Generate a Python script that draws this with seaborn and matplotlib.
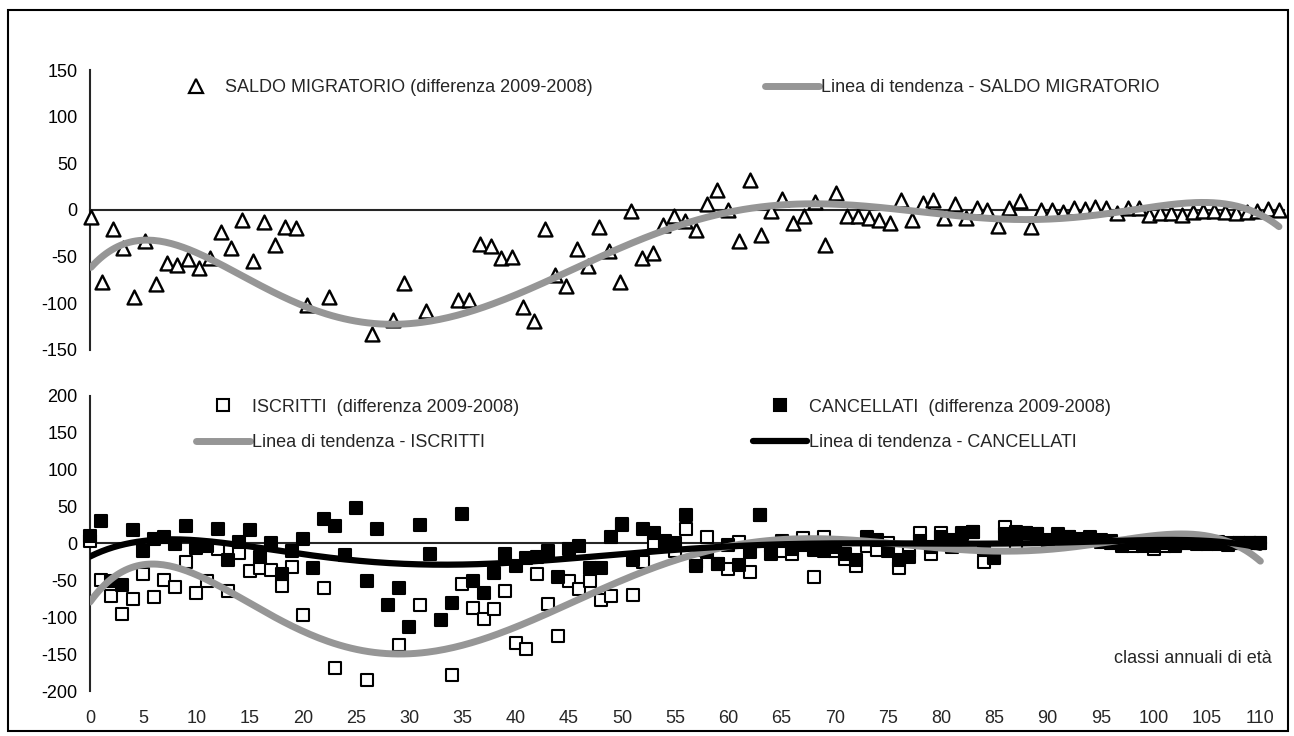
import numpy as np
import matplotlib
matplotlib.use("Agg")
import matplotlib.pyplot as plt
from matplotlib.lines import Line2D
from matplotlib.patches import Rectangle
import seaborn as sns

# classi annuali di eta' 0..110
eta = np.arange(0, 111)

# saldo migratorio (differenza 2009-2008), valori oltre la scala non sono visibili
saldo = [-7, -77, -20, -41, -93, -33, -79, -57, -59, -52,
         -62, -51, -24, -41, -11, -55, -13, -38, -18, -19,
         -102, -172, -93, -192, -188, -253, -133, -223, -118, -78,
         -152, -108, -190, -152, -96, -96, -36, -39, -51, -50,
         -104, -119, -20, -70, -81, -42, -60, -18, -44, -77,
         -1, -51, -46, -16, -6, -12, -21, 6, 21, 0,
         -33, 32, -27, -1, 12, -14, -6, 9, -37, 18,
         -6, -6, -9, -11, -14, 11, -11, 8, 11, -9,
         6, -9, 2, 0, -17, 2, 10, -18, 0, 0,
         -2, 2, 1, 3, 2, -3, 2, 2, -5, -3,
         -3, -5, -2, -1, -1, -2, -3, -2, -1, 1,
         0]

iscritti = [3, -49, -71, -96, -76, -42, -73, -49, -59, -25,
            -67, -51, -8, -64, -13, -37, -33, -36, -58, -32,
            -97, -205, -60, -169, -204, -205, -185, -203, -202, -138,
            -265, -83, -204, -256, -178, -55, -87, -103, -89, -65,
            -135, -143, -42, -82, -126, -51, -62, -51, -77, -71,
            25, -70, -25, 1, -3, -11, 20, -25, 9, -28,
            -35, 2, -39, 38, -3, -11, -14, 7, -46, 8,
            -11, -21, -31, -3, -9, 1, -33, -10, 14, -14,
            14, -5, 14, 15, -25, -18, 22, -3, 14, 12,
            3, 12, 9, 6, 8, 2, 3, -1, -4, -4,
            -7, -4, -4, 0, -1, -1, -1, -2, 0, 1,
            1]

cancellati = [10, 30, -51, -57, 18, -10, 6, 9, -1, 24,
              -6, -4, 19, -22, 2, 18, -19, 1, -41, -10,
              6, -33, 33, 23, -16, 48, -51, 20, -84, -60,
              -113, 25, -14, -104, -81, 40, -51, -67, -40, -15,
              -31, -20, -19, -10, -46, -8, -3, -34, -33, 8,
              26, -22, 19, 14, 3, 1, 39, -31, -12, -28,
              -2, -30, -12, 39, -15, 3, -8, -2, -9, -10,
              -5, -15, -22, 8, 5, -10, -22, -18, 3, -5,
              8, 4, 12, 15, -8, -20, 12, 15, 14, 12,
              5, 10, 8, 3, 6, 5, 1, -3, 1, -1,
              -4, 1, -2, 1, 0, 1, 2, 0, 1, 0,
              1]

lab_saldo = "SALDO MIGRATORIO (differenza 2009-2008)"
lab_isc = "ISCRITTI  (differenza 2009-2008)"
lab_canc = "CANCELLATI  (differenza 2009-2008)"
GRAY = "#969696"
FS = 13

sns.set_style("white")
plt.rcParams["font.family"] = ["Liberation Sans", "DejaVu Sans"]
plt.rcParams["axes.unicode_minus"] = False


def trend(y):
    # linea di tendenza polinomiale di ordine 6, come in Excel
    p = np.polynomial.Polynomial.fit(eta, np.asarray(y, float), 6)
    xs = np.linspace(eta.min(), eta.max(), 400)
    return xs, p(xs)


def visible(y, lim):
    y = np.asarray(y, float)
    return np.where(np.abs(y) <= lim, y, np.nan)


def style_axis(ax, lim, step):
    ax.set_ylim(-lim, lim)
    ax.set_yticks(np.arange(-lim, lim + 1, step))
    ax.set_xticks(np.arange(0, 111, 5))
    for s in ["top", "right"]:
        ax.spines[s].set_visible(False)
    ax.spines["left"].set_linewidth(1.5)
    ax.spines["bottom"].set_linewidth(1.5)
    ax.spines["bottom"].set_position(("data", 0))
    ax.tick_params(axis="y", direction="out", length=4, width=1.5,
                   labelsize=FS, pad=5, colors="black")
    ax.tick_params(axis="x", direction="out", length=4, width=1.5,
                   labelbottom=False)
    ax.set_xlabel("")
    ax.set_ylabel("")
    ax.grid(False)


fig = plt.figure(figsize=(12.94, 7.36), dpi=100)
ax1 = fig.add_axes([0.06947, 0.52446, 0.9231, 0.38043])
ax2 = fig.add_axes([0.06955, 0.06114, 0.90858, 0.40122])

# --- pannello superiore: saldo migratorio
sns.scatterplot(x=eta, y=visible(saldo, 150), marker="^", s=100, color="white",
                edgecolor="black", linewidth=1.7, ax=ax1, zorder=3,
                clip_on=False, legend=False)
xs, ys = trend(saldo)
sns.lineplot(x=xs, y=ys, color=GRAY, linewidth=5, ax=ax1, zorder=4)
ax1.set_xlim(-0.1, 110.5)
style_axis(ax1, 150, 50)

# --- pannello inferiore: iscritti e cancellati
sns.scatterplot(x=eta, y=visible(iscritti, 200), marker="s", s=72, color="white",
                edgecolor="black", linewidth=1.5, ax=ax2, zorder=3,
                clip_on=False, legend=False)
sns.scatterplot(x=eta, y=visible(cancellati, 200), marker="s", s=72, color="black",
                edgecolor="black", linewidth=1.5, ax=ax2, zorder=3.5,
                clip_on=False, legend=False)
xs, yi = trend(iscritti)
sns.lineplot(x=xs, y=yi, color=GRAY, linewidth=5, ax=ax2, zorder=4)
xs, yc = trend(cancellati)
sns.lineplot(x=xs, y=yc, color="black", linewidth=4.5, ax=ax2, zorder=4.5)
ax2.set_xlim(0, 110.5)
style_axis(ax2, 200, 50)

sec = ax2.secondary_xaxis("bottom")
sec.set_xticks(np.arange(0, 111, 5))
sec.spines["bottom"].set_visible(False)
sec.tick_params(length=0, labelsize=FS, pad=14)

ax2.text(1.005, 0.111, "classi annuali di età", transform=ax2.transAxes,
         ha="right", va="center", fontsize=FS)

# --- legende
tri = Line2D([], [], marker="^", ls="none", ms=9.5, mfc="white", mec="black", mew=1.6)
sq_o = Line2D([], [], marker="s", ls="none", ms=8.5, mfc="white", mec="black", mew=1.5)
sq_f = Line2D([], [], marker="s", ls="none", ms=8.5, mfc="black", mec="black", mew=1.5)
ln_g = Line2D([], [], color=GRAY, lw=5, solid_capstyle="round")
ln_k = Line2D([], [], color="black", lw=4.5, solid_capstyle="round")

W, H = 1294.0, 736.0
leg_kw = dict(loc="center left", frameon=False, fontsize=FS, borderpad=0,
              borderaxespad=0, handlelength=2.99, handletextpad=0.1,
              labelspacing=1.05, bbox_transform=fig.transFigure)


def add_leg(handles, labels, x, y):
    lg = fig.legend(handles, labels, bbox_to_anchor=(x / W, 1 - y / H), **leg_kw)
    return lg


add_leg([tri], [lab_saldo], 169, 88)
add_leg([ln_g], ["Linea di tendenza - SALDO MIGRATORIO"], 765, 88)
add_leg([sq_o, ln_g], [lab_isc, "Linea di tendenza - ISCRITTI"], 196, 425)
add_leg([sq_f, ln_k], [lab_canc, "Linea di tendenza - CANCELLATI"], 753, 425)

# cornice esterna
fig.patches.append(Rectangle((8 / W, 5 / H), (1288 - 8) / W, (726 - 5) / H,
                             transform=fig.transFigure, fill=False,
                             lw=1.5, ec="black"))

fig.savefig("out.png", dpi=100, facecolor="white")
